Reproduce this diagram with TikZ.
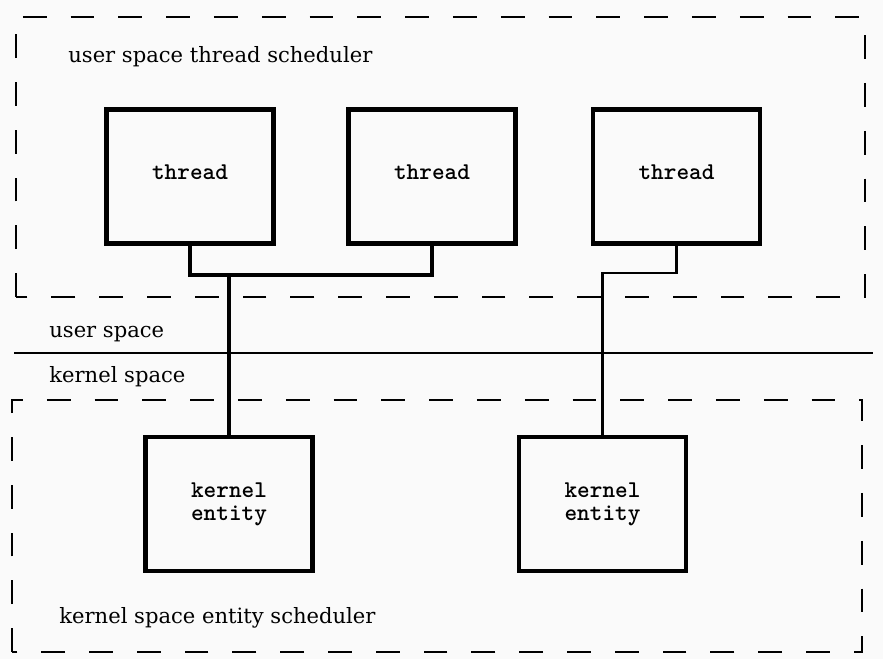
\documentclass[tikz,border=0pt]{standalone}
\usepackage{fontspec}
\setmainfont{DejaVu Serif}
\begin{document}
\begin{tikzpicture}[scale=1.0,
  entity/.style={draw,line width=2.3pt,minimum width=3.34cm,minimum height=2.68cm,
    inner sep=0pt,align=center,font=\ttfamily\bfseries\fontsize{13.7}{13}\selectfont},
  threadbox/.style={entity,text depth=0.16cm},
  sched/.style={line width=1.1pt,dash pattern=on 13.6pt off 13.6pt},
  link/.style={line width=2pt},
  label/.style={anchor=base west,inner sep=0pt,font=\fontsize{12}{14}\selectfont}]
\useasboundingbox[fill=black!2] (0,0) rectangle (17.66,13.18);
% scheduler regions
\draw [sched] (0.32,7.24) rectangle (17.30,12.84);
\draw [sched] (0.24,0.14) rectangle (17.24,5.18);
% user / kernel boundary
\coordinate (L) at (0.28,6.12);
\coordinate (R) at (17.46,6.12);
\draw [line width=1.4pt] (L) -- (R);
\node[label] (usched) at (1.36,11.92) {user space thread scheduler};
\node[label] (uspace) at (0.98,6.44) {user space};
\node[label] (kspace) at (0.98,5.54) {kernel space};
\node[label] (ksched) at (1.18,0.72) {kernel space entity scheduler};
% threads and kernel entities
\node[threadbox] (T1) at (3.80,9.65) {thread};
\node[threadbox] (T2) at (8.64,9.65) {thread};
\node[threadbox] (T3) at (13.53,9.65) {thread};
\node[entity] (K1) at (4.58,3.10) {kernel\\entity};
\node[entity] (K2) at (12.05,3.10) {kernel\\entity};
\coordinate (bus) at (0,7.68);
\coordinate (bus3) at (0,7.72);
\draw [link] (T1.south) |- (bus -| T2.south) -- (T2.south);
\draw [link] (K1.north) -- (K1.north |- bus);
\draw [link,line width=1.6pt] (T3.south) |- (bus3 -| K2.north) -- (K2.north);
\end{tikzpicture}
\end{document}
